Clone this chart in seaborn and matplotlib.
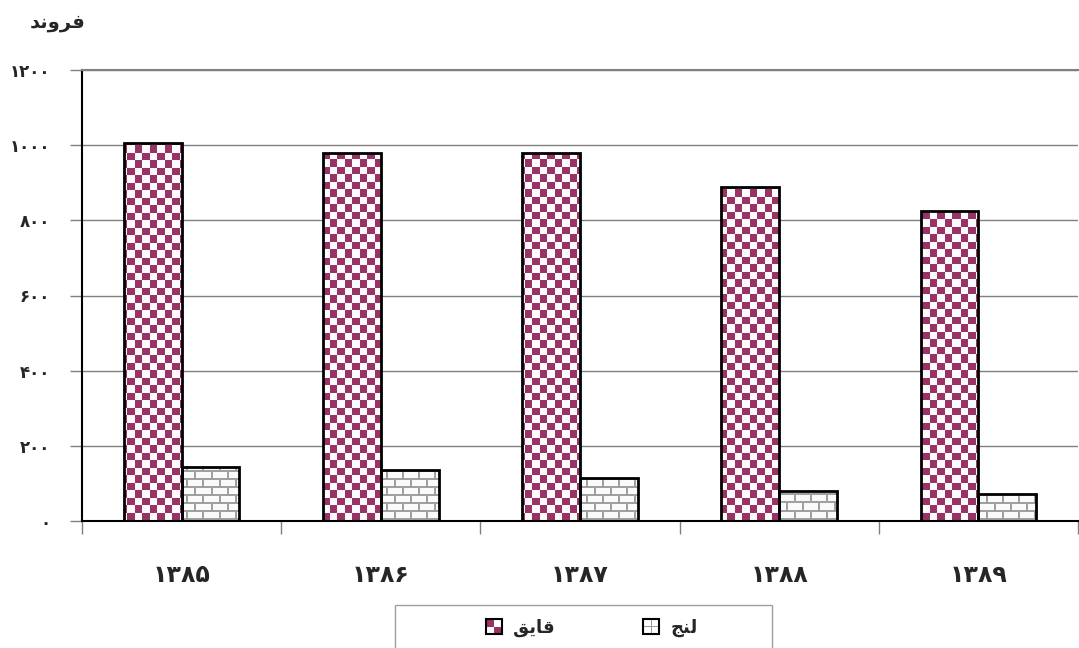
import numpy as np
import pandas as pd
import matplotlib
matplotlib.use('Agg')
import matplotlib.pyplot as plt
import seaborn as sns
from matplotlib.patches import Rectangle, Patch
from matplotlib.legend_handler import HandlerBase

# داده ها (سال ها و تعداد شناورها)
years = ['۱۳۸۵', '۱۳۸۶', '۱۳۸۷', '۱۳۸۸', '۱۳۸۹']
qayeq = [1005, 980, 980, 889, 825]
lenj = [145, 135, 114, 80, 73]

# متن فارسی با حروف شکل یافته (matplotlib خودش اتصال حروف را انجام نمی دهد)
lbl_qayeq = 'ﻖﻳﺎﻗ'   # قایق
lbl_lenj = 'ﺞﻨﻟ'     # لنج
lbl_unit = 'ﺪﻧﻭﺮﻓ'   # فروند

PLUM = '#993366'
GRAY = '#808080'
to_fa = str.maketrans('0123456789', '۰۱۲۳۴۵۶۷۸۹')

sns.set_style('white')
plt.rcParams['font.family'] = ['DejaVu Sans']

df = pd.DataFrame({
    'year': years * 2,
    'type': [lbl_qayeq] * len(years) + [lbl_lenj] * len(years),
    'count': qayeq + lenj,
})

fig = plt.figure(figsize=(10.79, 6.48), dpi=100)
ax = fig.add_axes([82 / 1079, 1 - 521 / 648, 996 / 1079, 451 / 648])

sns.barplot(data=df, x='year', y='count', hue='type', palette=[PLUM, 'white'],
            width=0.58, edgecolor='black', linewidth=2, saturation=1,
            legend=False, ax=ax)

xlim = ax.get_xlim()
ylim = (0, 1200)

# بافت ها: شطرنجی برای قایق و آجری برای لنج
H, W = 451, 996
r, c = np.mgrid[0:H, 0:W]
rc = (r // 7.5).astype(int)
cc = (c // 7.5).astype(int)
chk = (rc + cc) % 2 == 1
checker = np.where(chk[..., None], np.array([153, 51, 102]), np.array([252, 250, 251])).astype(np.uint8)
row = r // 8
mortar = (r % 8 < 2) | (((c + (row % 2) * 8) % 16) < 2)
brick = np.where(mortar[..., None], np.array([160, 160, 160]), np.array([250, 250, 250])).astype(np.uint8)

for cont, tex in zip(ax.containers, [checker, brick]):
    for bar in cont:
        bar.set_facecolor('none')
        bar.set_zorder(2)
        im = ax.imshow(tex, extent=(xlim[0], xlim[1], ylim[0], ylim[1]), aspect='auto',
                       interpolation='nearest', zorder=1.5)
        im.set_clip_path(bar)

ax.set_xlim(xlim)
ax.set_ylim(ylim)

# محورها و خطوط راهنما
ax.set_axisbelow(True)
ax.yaxis.grid(True, color=GRAY, linewidth=1)
yt = np.arange(0, 1201, 200)
ax.set_yticks(yt)
ax.set_yticklabels([str(v).translate(to_fa) for v in yt], fontsize=12, fontweight='bold')
ax.tick_params(axis='y', length=9, width=1, color=GRAY, pad=14, left=True)
ax.set_xticks(np.arange(len(years) + 1) - 0.5, minor=True)
ax.tick_params(axis='x', which='major', length=0, pad=30, labelsize=17)
ax.tick_params(axis='x', which='minor', length=9, width=1, color=GRAY, bottom=True)
for t in ax.get_xticklabels():
    t.set_fontweight('bold')

for s in ['left', 'bottom']:
    ax.spines[s].set_color('black')
    ax.spines[s].set_linewidth(1.5)
ax.spines['right'].set_visible(False)
ax.spines['top'].set_color(GRAY)
ax.spines['top'].set_linewidth(1.5)

ax.set_xlabel('')
ax.set_ylabel(lbl_unit, rotation=0, fontsize=14, fontweight='bold', ha='center', va='center')
ax.yaxis.set_label_coords(-0.024, 1.106)


# نمادهای راهنما
class SwatchHandler(HandlerBase):
    def __init__(self, kind):
        super().__init__()
        self.kind = kind

    def create_artists(self, legend, orig_handle, xdescent, ydescent, width, height, fontsize, trans):
        x0, y0 = -xdescent, -ydescent
        s = min(width, height)
        w2 = s / 2
        arts = []
        if self.kind == 'checker':
            arts.append(Rectangle((x0, y0), s, s, facecolor='white', edgecolor='none', transform=trans))
            arts.append(Rectangle((x0, y0 + w2), w2, w2, facecolor=PLUM, edgecolor='none', transform=trans))
            arts.append(Rectangle((x0 + w2, y0), w2, w2, facecolor=PLUM, edgecolor='none', transform=trans))
        else:
            arts.append(Rectangle((x0, y0), s, s, facecolor='white', edgecolor='none', transform=trans))
            arts.append(Rectangle((x0, y0 + w2 - 0.5), s, 1, facecolor='#999999', edgecolor='none', transform=trans))
            arts.append(Rectangle((x0 + w2 - 0.5, y0), 1, s, facecolor='#999999', edgecolor='none', transform=trans))
        arts.append(Rectangle((x0, y0), s, s, facecolor='none', edgecolor='black', linewidth=1.5, transform=trans))
        return arts


h_q = Patch(facecolor=PLUM)
h_l = Patch(facecolor='white')
fig.legend(handles=[h_q, h_l], labels=[lbl_qayeq, lbl_lenj], loc='center',
           bbox_to_anchor=(592 / 1079, 1 - 628 / 648), ncol=2, frameon=False,
           handler_map={h_q: SwatchHandler('checker'), h_l: SwatchHandler('brick')},
           prop={'weight': 'bold', 'size': 13}, handlelength=0.95, handleheight=0.95,
           handletextpad=0.55, columnspacing=4.9)
fig.add_artist(Rectangle((395 / 1079, -0.02), 377 / 1079, (648 - 605) / 648 + 0.02,
                         transform=fig.transFigure, fill=False, edgecolor='#a0a0a0', linewidth=1))

fig.savefig('out.png', dpi=100)
